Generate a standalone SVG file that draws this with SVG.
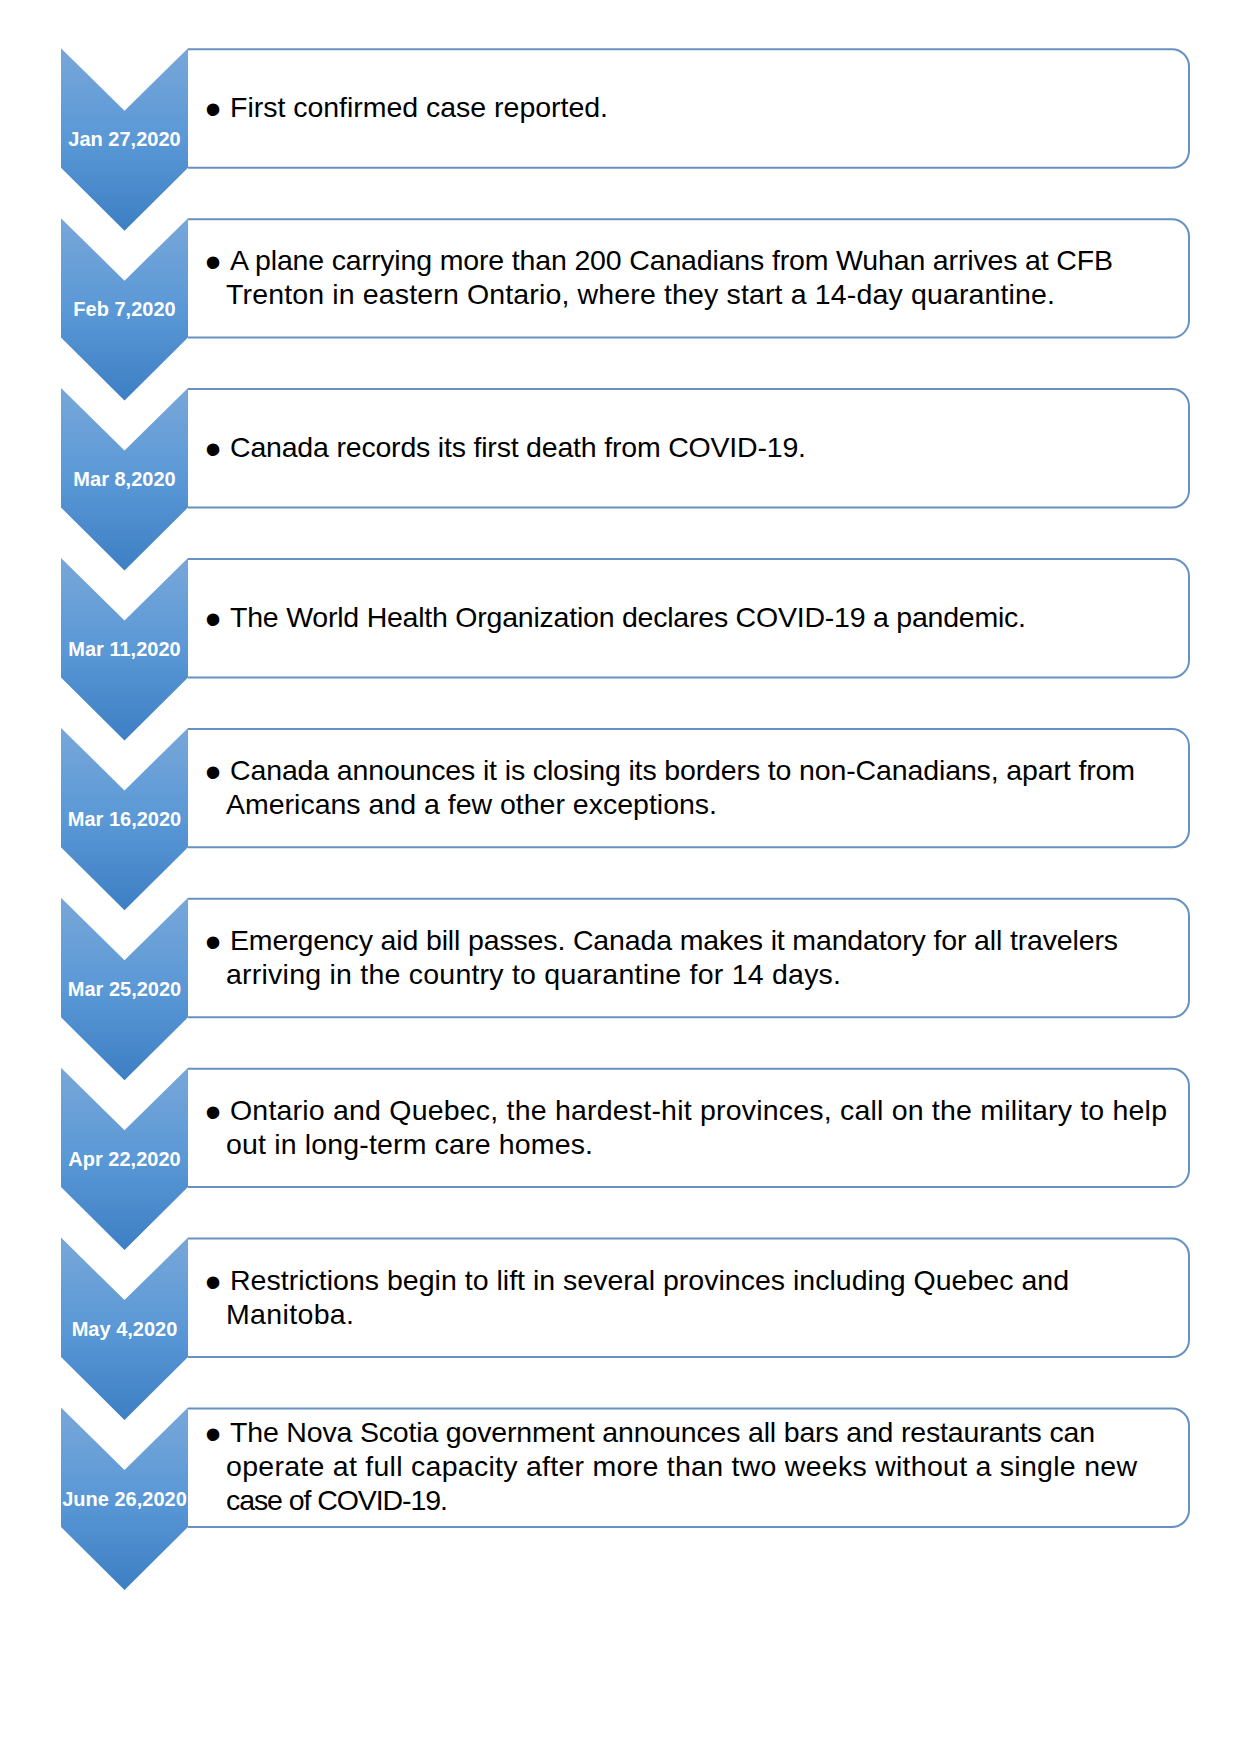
<svg xmlns="http://www.w3.org/2000/svg" xmlns:xlink="http://www.w3.org/1999/xlink" width="1240" height="1754" viewBox="0 0 1240 1754">
<style>
.date{font-family:"Liberation Sans",Arial,sans-serif;font-weight:bold;font-size:20px;fill:#ffffff;text-anchor:middle}
.txt{font-family:"Liberation Sans",Arial,sans-serif;font-size:28.5px;fill:#000000}
.bul{font-size:46px}
.box{fill:#ffffff;stroke:#6792c0;stroke-width:2}
.chev{fill:url(#grad)}
</style>
<defs>
<linearGradient id="grad" x1="0" y1="0" x2="0" y2="1">
<stop offset="0" stop-color="#78a7d9"/>
<stop offset="0.5" stop-color="#5a98d6"/>
<stop offset="1" stop-color="#3d7fc4"/>
</linearGradient>
<path id="boxshape" class="box" d="M188,1 H1172 A17,17 0 0 1 1189,18 V102.4 A17,17 0 0 1 1172,119.4 H188"/>
<path id="chevshape" class="chev" d="M61,0 L124.5,62.5 L188,0 L188,119.4 L124.5,182.4 L61,119.4 Z"/>
</defs>
<rect width="1240" height="1754" fill="#ffffff"/>

<g id="node1" transform="translate(0,48.3)">
<use xlink:href="#boxshape"/>
<use xlink:href="#chevshape"/>
<text class="date" x="124.5" y="98">Jan 27,2020</text>
<text class="txt"><tspan class="bul" x="205" y="77">•</tspan><tspan x="230" y="69" textLength="378">First confirmed case reported.</tspan></text>
</g>

<g id="node2" transform="translate(0,218.2)">
<use xlink:href="#boxshape"/>
<use xlink:href="#chevshape"/>
<text class="date" x="124.5" y="98">Feb 7,2020</text>
<text class="txt"><tspan class="bul" x="205" y="60">•</tspan><tspan x="230" y="52" textLength="883">A plane carrying more than 200 Canadians from Wuhan arrives at CFB</tspan><tspan x="226" y="86" textLength="829">Trenton in eastern Ontario, where they start a 14-day quarantine.</tspan></text>
</g>

<g id="node3" transform="translate(0,388.1)">
<use xlink:href="#boxshape"/>
<use xlink:href="#chevshape"/>
<text class="date" x="124.5" y="98">Mar 8,2020</text>
<text class="txt"><tspan class="bul" x="205" y="77">•</tspan><tspan x="230" y="69" textLength="576">Canada records its first death from COVID-19.</tspan></text>
</g>

<g id="node4" transform="translate(0,558)">
<use xlink:href="#boxshape"/>
<use xlink:href="#chevshape"/>
<text class="date" x="124.5" y="98">Mar 11,2020</text>
<text class="txt"><tspan class="bul" x="205" y="77">•</tspan><tspan x="230" y="69" textLength="796">The World Health Organization declares COVID-19 a pandemic.</tspan></text>
</g>

<g id="node5" transform="translate(0,727.9)">
<use xlink:href="#boxshape"/>
<use xlink:href="#chevshape"/>
<text class="date" x="124.5" y="98">Mar 16,2020</text>
<text class="txt"><tspan class="bul" x="205" y="60">•</tspan><tspan x="230" y="52" textLength="905">Canada announces it is closing its borders to non-Canadians, apart from</tspan><tspan x="226" y="86" textLength="491">Americans and a few other exceptions.</tspan></text>
</g>

<g id="node6" transform="translate(0,897.8)">
<use xlink:href="#boxshape"/>
<use xlink:href="#chevshape"/>
<text class="date" x="124.5" y="98">Mar 25,2020</text>
<text class="txt"><tspan class="bul" x="205" y="60">•</tspan><tspan x="230" y="52" textLength="888">Emergency aid bill passes. Canada makes it mandatory for all travelers</tspan><tspan x="226" y="86" textLength="615">arriving in the country to quarantine for 14 days.</tspan></text>
</g>

<g id="node7" transform="translate(0,1067.7)">
<use xlink:href="#boxshape"/>
<use xlink:href="#chevshape"/>
<text class="date" x="124.5" y="98">Apr 22,2020</text>
<text class="txt"><tspan class="bul" x="205" y="60">•</tspan><tspan x="230" y="52" textLength="937">Ontario and Quebec, the hardest-hit provinces, call on the military to help</tspan><tspan x="226" y="86" textLength="367">out in long-term care homes.</tspan></text>
</g>

<g id="node8" transform="translate(0,1237.6)">
<use xlink:href="#boxshape"/>
<use xlink:href="#chevshape"/>
<text class="date" x="124.5" y="98">May 4,2020</text>
<text class="txt"><tspan class="bul" x="205" y="60">•</tspan><tspan x="230" y="52" textLength="839">Restrictions begin to lift in several provinces including Quebec and</tspan><tspan x="226" y="86" textLength="128">Manitoba.</tspan></text>
</g>

<g id="node9" transform="translate(0,1407.5)">
<use xlink:href="#boxshape"/>
<use xlink:href="#chevshape"/>
<text class="date" x="124.5" y="98">June 26,2020</text>
<text class="txt"><tspan class="bul" x="205" y="42">•</tspan><tspan x="230" y="34" textLength="865">The Nova Scotia government announces all bars and restaurants can</tspan><tspan x="226" y="68" textLength="911">operate at full capacity after more than two weeks without a single new</tspan><tspan x="226" y="102" textLength="222">case of COVID-19.</tspan></text>
</g>

<g id="connectors"></g>
</svg>
